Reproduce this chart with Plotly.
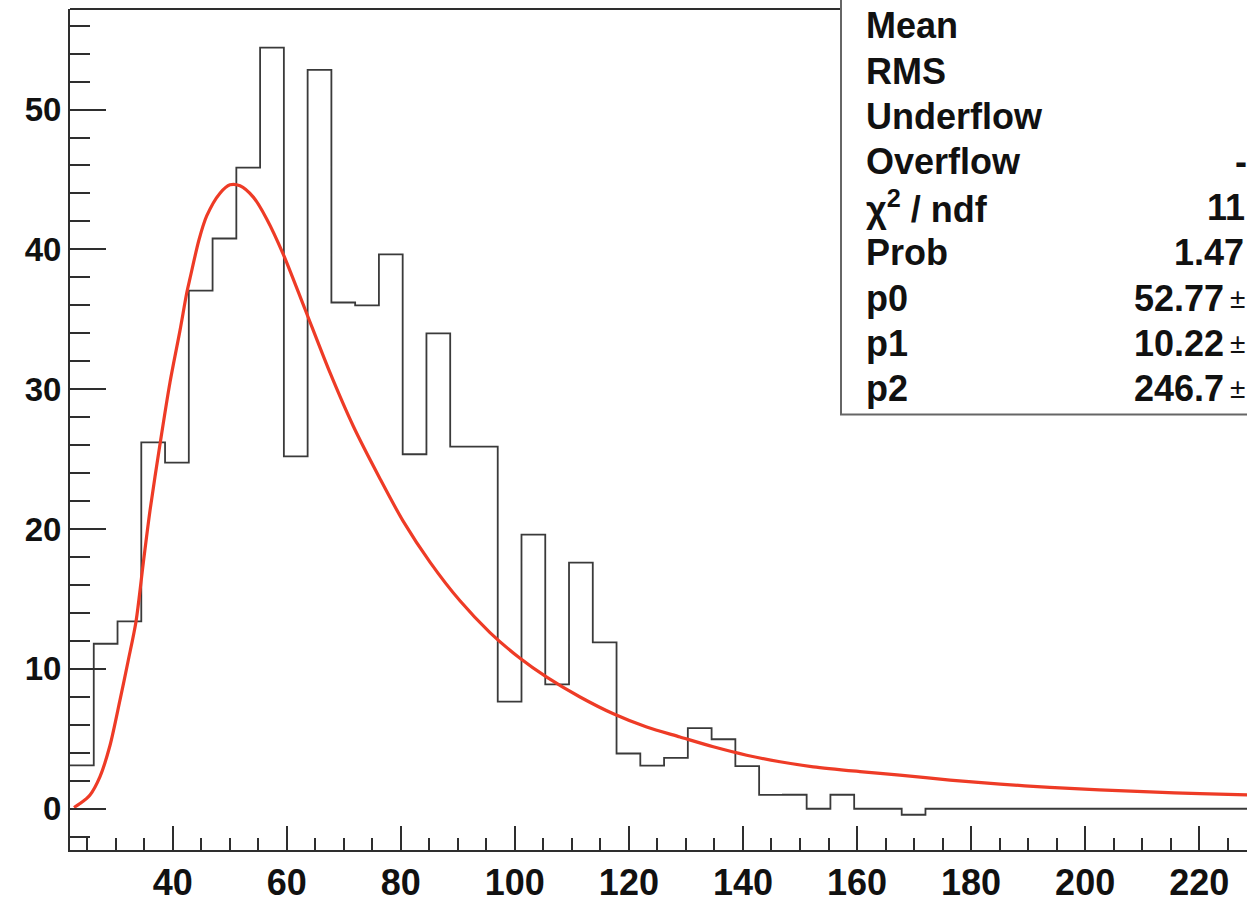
import numpy as np
import plotly.graph_objects as go

# ---------------- data ----------------
bin_start = 22.0
bin_width = 250.0 / 60.0
counts = [3.1, 11.8, 13.4, 26.2, 24.75, 37.05, 40.78, 45.84, 54.43, 25.2,
          52.84, 36.2, 36.0, 39.65, 25.35, 34.0, 25.9, 25.9, 7.66, 19.6,
          8.9, 17.6, 11.9, 3.95, 3.08, 3.64, 5.77, 4.97, 3.05, 0.99,
          1.0, 0.0, 1.0, 0.0, 0.0, -0.43, 0.0, 0.0, 0.0, 0.0,
          0.0, 0.0, 0.0, 0.0, 0.0, 0.0, 0.0, 0.0, 0.0, 0.0]

fit_x = [22.70, 23.75, 25.51, 27.26, 29.01, 30.77, 32.22, 33.57, 34.85, 36.03,
         37.78, 39.53, 41.29, 42.46, 43.04, 44.62, 45.97, 48.30, 50.06, 51.81,
         54.14, 56.49, 59.40, 63.21, 67.59, 71.68, 76.36, 80.44, 85.12, 90.38,
         95.64, 100.91, 105.59, 111.43, 117.27, 123.12, 128.96, 134.80, 140.65,
         146.49, 152.33, 160.52, 167.5, 176.3, 185.1, 193.8, 202.5, 211.3,
         220.1, 228.4]
fit_y = [0.09, 0.37, 0.99, 2.30, 4.52, 7.78, 10.62, 13.38, 17.57, 21.33,
         26.06, 30.48, 34.21, 36.86, 37.92, 40.69, 42.39, 44.02, 44.62, 44.55,
         43.74, 42.18, 39.65, 35.72, 31.18, 27.35, 23.60, 20.55, 17.64, 14.87,
         12.60, 10.76, 9.41, 7.99, 6.79, 5.84, 5.13, 4.43, 3.83,
         3.36, 3.00, 2.66, 2.41, 2.05, 1.76, 1.53, 1.35, 1.20,
         1.08, 0.99]

stat_labels = ["Mean", "RMS", "Underflow", "Overflow", "χ<sup>2</sup> / ndf",
               "Prob", "p0", "p1", "p2"]
stat_values = ["", "", "", "-", "11", "1.47", "52.77", "10.22", "246.7"]
stat_errsign = ["", "", "", "", "", "", "±", "±", "±"]

x_range = [22.0, 228.38]
y_range = [-2.95, 57.19]

# ---------------- layout geometry (pixels) ----------------
W, H = 1247, 903
ML, MR, MT, MB = 70, 0, 9, 46
PW, PH = W - ML - MR, H - MT - MB


def px_x(p):
    return (p - ML) / PW


def px_y(p):
    return (H - MB - p) / PH


edges = bin_start + bin_width * np.arange(len(counts) + 1)
step_y = list(counts) + [counts[-1]]

FRAME = "#2e2e2e"
FONT = "Liberation Sans, Arial, Helvetica, sans-serif"

fig = go.Figure()
fig.add_trace(go.Scatter(x=edges, y=step_y, mode="lines",
                         line=dict(color="#3a3a3a", width=1.8, shape="hv"),
                         hoverinfo="skip"))
fig.add_trace(go.Scatter(x=fit_x, y=fit_y, mode="lines",
                         line=dict(color="#ee3b26", width=3.2, shape="spline",
                                   smoothing=0.8),
                         hoverinfo="skip"))

axis_common = dict(showgrid=False, zeroline=False, showline=True,
                   linecolor=FRAME, linewidth=2, ticks="inside",
                   tickcolor=FRAME, tickwidth=2, mirror=False,
                   tickfont=dict(family=FONT, color="#111111", weight="bold"))

fig.update_xaxes(range=x_range, tick0=0, dtick=20, ticklen=24,
                 minor=dict(dtick=5, tick0=0, ticklen=12, ticks="inside",
                            tickcolor=FRAME, tickwidth=2, showgrid=False),
                 **axis_common)
fig.update_xaxes(tickfont_size=36)
fig.update_yaxes(range=y_range, tick0=0, dtick=10, ticklen=36,
                 minor=dict(dtick=2, tick0=0, ticklen=20, ticks="inside",
                            tickcolor=FRAME, tickwidth=2, showgrid=False),
                 **axis_common)
fig.update_yaxes(tickfont_size=33)

box_left = px_x(841)
shapes = [
    # top frame line up to the stats box
    dict(type="line", xref="paper", yref="paper", x0=0, x1=box_left,
         y0=1, y1=1, line=dict(color=FRAME, width=2)),
    # stats box
    dict(type="rect", xref="paper", yref="paper", x0=box_left, x1=1.05,
         y0=px_y(418), y1=px_y(-10), fillcolor="white",
         line=dict(color="#666666", width=2)),
]

annotations = []
row0, row_step = 26.0, 45.75
val_x = [None, None, None, 1233, 1205, 1172, 1132, 1132, 1132]
for i, (lab, val, err) in enumerate(zip(stat_labels, stat_values,
                                         stat_errsign)):
    yc = px_y(row0 + i * row_step)
    annotations.append(dict(xref="paper", yref="paper", x=px_x(864), y=yc,
                            xanchor="left", yanchor="middle", text=lab,
                            showarrow=False,
                            font=dict(family=FONT, size=36, color="#111111",
                                      weight="bold")))
    if val:
        annotations.append(dict(xref="paper", yref="paper", x=px_x(val_x[i]),
                                y=yc, xanchor="left", yanchor="middle",
                                text=val, showarrow=False,
                                font=dict(family=FONT, size=36,
                                          color="#111111", weight="bold")))
    if err:
        annotations.append(dict(xref="paper", yref="paper", x=px_x(1228),
                                y=yc, xanchor="left", yanchor="middle",
                                text=err, showarrow=False,
                                font=dict(family=FONT, size=28,
                                          color="#111111")))

fig.update_layout(width=W, height=H, autosize=False,
                  margin=dict(l=ML, r=MR, t=MT, b=MB, pad=0),
                  plot_bgcolor="white", paper_bgcolor="white",
                  showlegend=False, shapes=shapes, annotations=annotations)

fig.write_html("out.html", config={"displayModeBar": False},
               post_script="document.body.style.margin='0px';"
                           "document.body.style.overflow='hidden';")
